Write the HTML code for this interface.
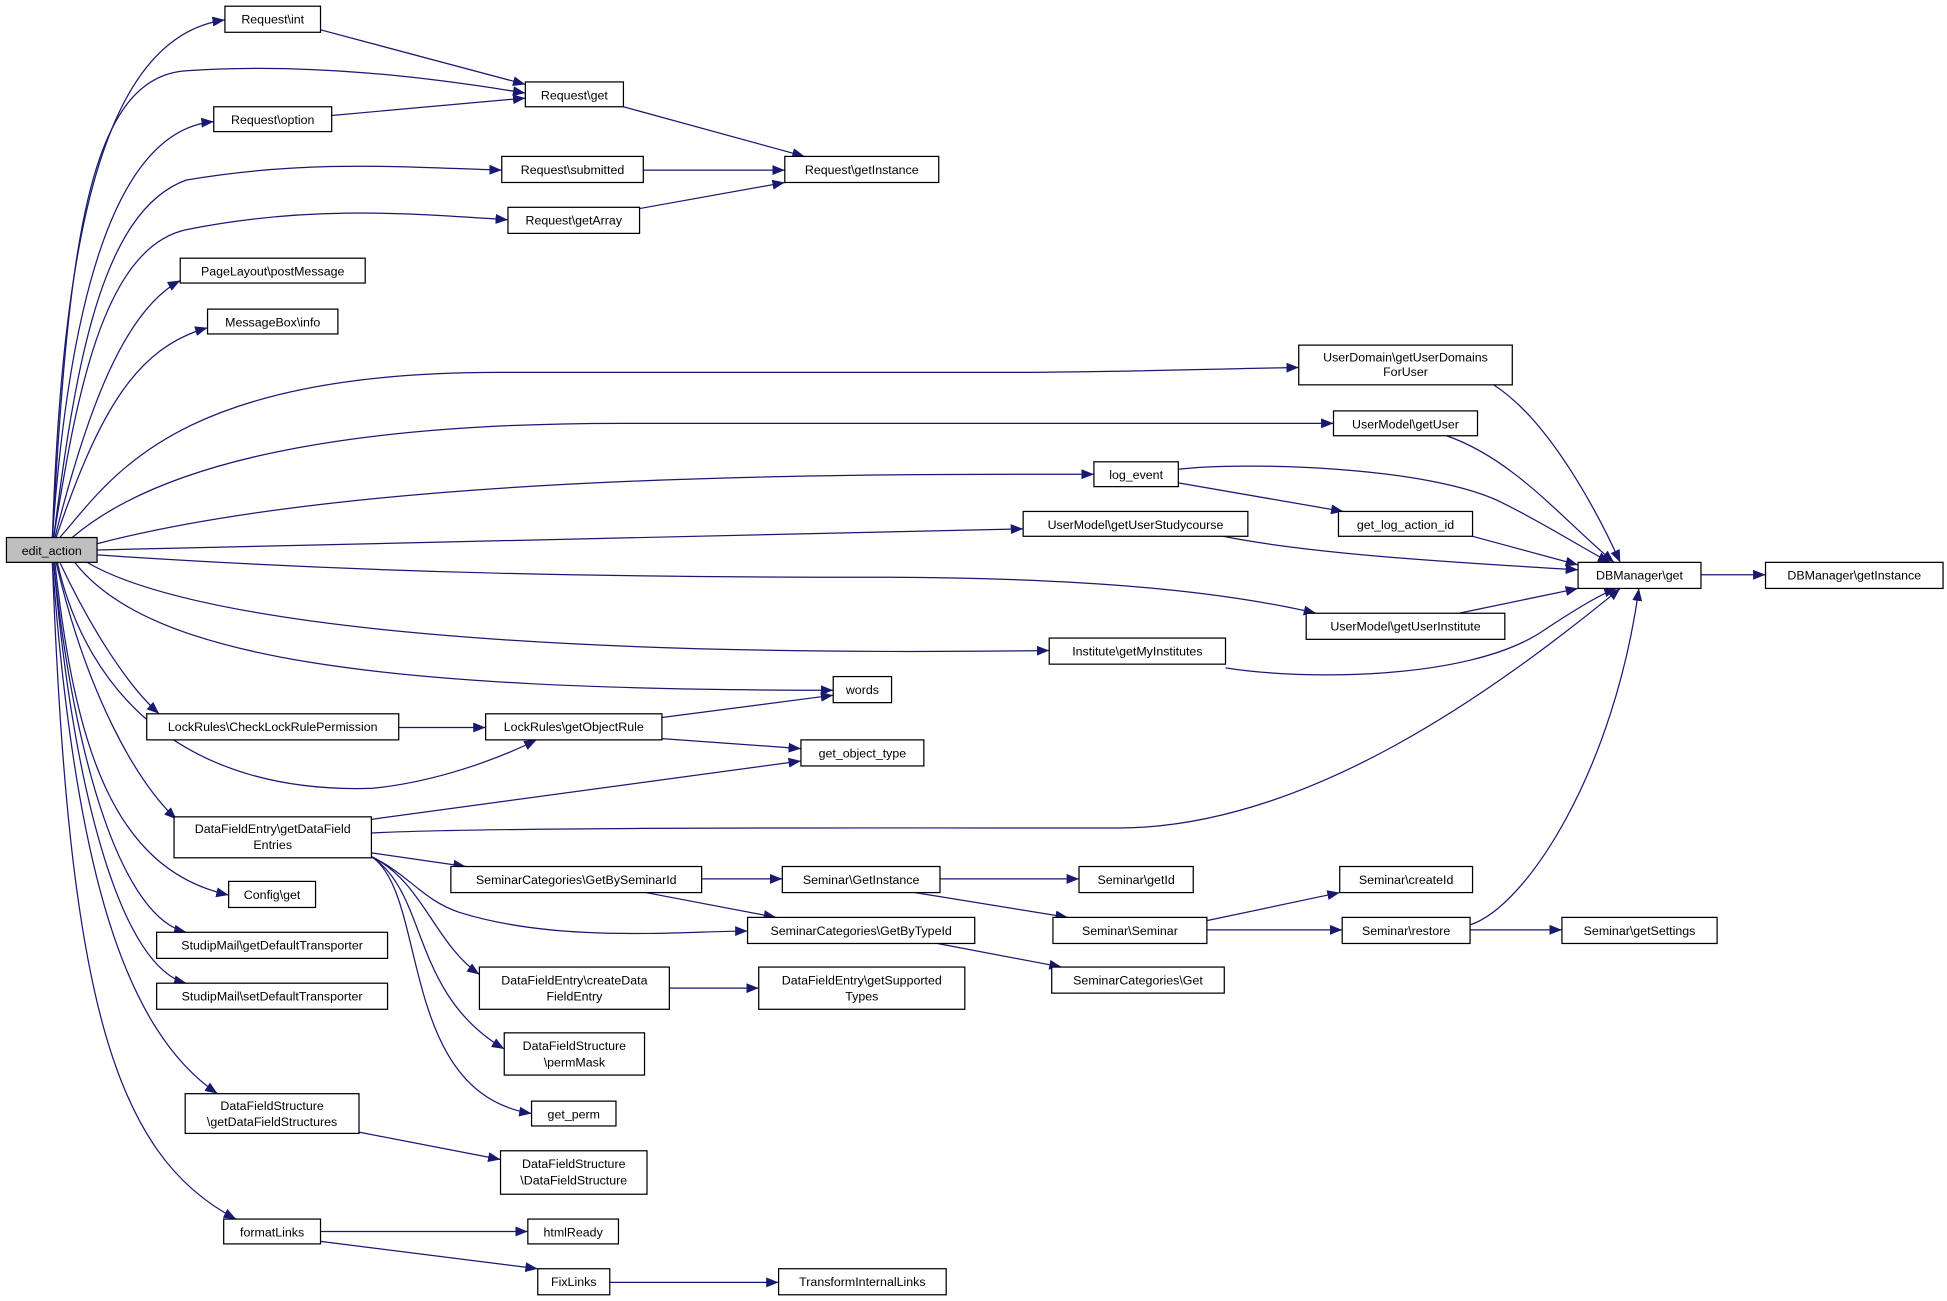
<!DOCTYPE html>
<html><head><meta charset="utf-8"><style>
html,body{margin:0;padding:0;background:#fff;}
svg{display:block;}
text{font-family:"Liberation Sans","DejaVu Sans",sans-serif;font-size:10px;fill:#000;text-anchor:middle;}
.n{fill:#fff;stroke:#000;stroke-width:1;}
.e{fill:none;stroke:#191970;stroke-width:1;marker-end:url(#a);}
</style></head><body>
<svg width="1947" height="1301" viewBox="0 0 1568 1048" xmlns="http://www.w3.org/2000/svg">
<defs><marker id="a" markerUnits="userSpaceOnUse" markerWidth="11" markerHeight="8" refX="10" refY="4" orient="auto"><path d="M0,0 L10,4 L0,8 Z" fill="#191970"/></marker></defs>
<g>
<path class="e" d="M42,433 C50,200 80,30 181,16"/>
<path class="e" d="M42,433 C55,200 70,62 150,57 C250,50 350,63 423,75"/>
<path class="e" d="M42,433 C55,250 90,105 172,98"/>
<path class="e" d="M43,433 C60,300 80,170 150,145 C250,128 330,135 404,137"/>
<path class="e" d="M43,433 C60,330 80,200 150,185 C250,165 330,172 409,177"/>
<path class="e" d="M44,433 C70,330 100,250 145,226"/>
<path class="e" d="M45,433 C80,330 110,280 167,264"/>
<path class="e" d="M48,433 C90,385 140,300 400,300 L800,300 C900,300 980,297 1046,296"/>
<path class="e" d="M58,433 C120,380 250,341 500,341 L1074,341"/>
<path class="e" d="M78,438 C300,380 700,382 881,382"/>
<path class="e" d="M78,443 L824,426"/>
<path class="e" d="M78,447 C300,462 500,465 700,465 C900,465 1000,480 1060,494"/>
<path class="e" d="M70,453 C150,500 400,530 845,524"/>
<path class="e" d="M60,453 C120,530 300,556 671,556"/>
<path class="e" d="M48,453 C70,500 100,550 128,575"/>
<path class="e" d="M46,453 C70,560 150,640 300,635 C350,630 400,612 432,596"/>
<path class="e" d="M45,453 C70,560 110,630 142,660"/>
<path class="e" d="M44,453 C60,600 90,700 184,721"/>
<path class="e" d="M43,453 C60,620 100,740 150,751"/>
<path class="e" d="M43,453 C60,650 100,780 150,792"/>
<path class="e" d="M42,453 C60,700 100,830 175,881"/>
<path class="e" d="M42,453 C55,800 90,930 190,982"/>
<path class="e" d="M258,24 L423,68"/>
<path class="e" d="M267,93 L423,79"/>
<path class="e" d="M502,86 L648,126"/>
<path class="e" d="M518,137 L632,137"/>
<path class="e" d="M515,168 L632,147"/>
<path class="e" d="M1203,310 C1250,340 1290,420 1305,453"/>
<path class="e" d="M1165,351 C1220,370 1260,420 1300,453"/>
<path class="e" d="M949,378 C1000,372 1150,375 1210,405 C1250,425 1280,445 1297,453"/>
<path class="e" d="M949,389 L1082,412"/>
<path class="e" d="M1186,432 L1271,455"/>
<path class="e" d="M985,432 C1050,445 1150,452 1271,459"/>
<path class="e" d="M1175,494 L1271,474"/>
<path class="e" d="M987,538 C1050,548 1180,548 1240,510 C1270,490 1290,478 1302,474"/>
<path class="e" d="M299,671 C400,666 700,667 900,667 C1050,667 1200,560 1305,474"/>
<path class="e" d="M1184,745 C1230,730 1300,620 1320,474"/>
<path class="e" d="M1370,463 L1422,463"/>
<path class="e" d="M299,660 L645,613"/>
<path class="e" d="M533,578 L671,560"/>
<path class="e" d="M533,595 L645,603"/>
<path class="e" d="M321,586 L391,586"/>
<path class="e" d="M299,687 L375,698"/>
<path class="e" d="M565,708 L630,708"/>
<path class="e" d="M520,719 L625,739"/>
<path class="e" d="M299,690 C330,705 340,725 370,735 C450,760 550,750 602,750"/>
<path class="e" d="M299,690 C340,710 350,760 386,785"/>
<path class="e" d="M299,690 C345,720 330,800 406,845"/>
<path class="e" d="M299,690 C345,720 320,880 428,897"/>
<path class="e" d="M757,708 L869,708"/>
<path class="e" d="M737,719 L860,739"/>
<path class="e" d="M970,742 L1079,719"/>
<path class="e" d="M972,749 L1081,749"/>
<path class="e" d="M1184,749 L1258,749"/>
<path class="e" d="M755,760 L855,779"/>
<path class="e" d="M539,796 L611,796"/>
<path class="e" d="M289,912 L403,934"/>
<path class="e" d="M258,992 L425,992"/>
<path class="e" d="M258,1000 L433,1022"/>
<path class="e" d="M491,1033 L627,1033"/>
</g>
<g>
<rect x="5" y="433" width="73" height="20" fill="#bfbfbf" stroke="#000"/><text x="41.5" y="447">edit_action</text>
<rect class="n" x="181" y="5" width="77" height="21"/><text x="219.5" y="19">Request\int</text>
<rect class="n" x="423" y="66" width="79" height="20"/><text x="462.5" y="80">Request\get</text>
<rect class="n" x="172" y="86" width="95" height="20"/><text x="219.5" y="100">Request\option</text>
<rect class="n" x="404" y="126" width="114" height="21"/><text x="461" y="140">Request\submitted</text>
<rect class="n" x="632" y="126" width="124" height="21"/><text x="694" y="140">Request\getInstance</text>
<rect class="n" x="409" y="167" width="106" height="21"/><text x="462" y="181">Request\getArray</text>
<rect class="n" x="145" y="208" width="149" height="20"/><text x="219.5" y="222">PageLayout\postMessage</text>
<rect class="n" x="167" y="249" width="105" height="20"/><text x="219.5" y="263">MessageBox\info</text>
<rect class="n" x="1046" y="278" width="172" height="32"/><text x="1132" y="291">UserDomain\getUserDomains</text><text x="1132" y="303">ForUser</text>
<rect class="n" x="1074" y="331" width="116" height="20"/><text x="1132" y="345">UserModel\getUser</text>
<rect class="n" x="881" y="372" width="68" height="20"/><text x="915" y="386">log_event</text>
<rect class="n" x="1078" y="412" width="108" height="20"/><text x="1132" y="426">get_log_action_id</text>
<rect class="n" x="824" y="412" width="181" height="20"/><text x="914.5" y="426">UserModel\getUserStudycourse</text>
<rect class="n" x="1271" y="453" width="99" height="21"/><text x="1320.5" y="467">DBManager\get</text>
<rect class="n" x="1422" y="453" width="143" height="21"/><text x="1493.5" y="467">DBManager\getInstance</text>
<rect class="n" x="1052" y="494" width="160" height="21"/><text x="1132" y="508">UserModel\getUserInstitute</text>
<rect class="n" x="845" y="514" width="142" height="21"/><text x="916" y="528">Institute\getMyInstitutes</text>
<rect class="n" x="671" y="545" width="47" height="21"/><text x="694.5" y="559">words</text>
<rect class="n" x="118" y="575" width="203" height="21"/><text x="219.5" y="589">LockRules\CheckLockRulePermission</text>
<rect class="n" x="391" y="575" width="142" height="21"/><text x="462" y="589">LockRules\getObjectRule</text>
<rect class="n" x="645" y="596" width="99" height="21"/><text x="694.5" y="610">get_object_type</text>
<rect class="n" x="140" y="658" width="159" height="33"/><text x="219.5" y="671">DataFieldEntry\getDataField</text><text x="219.5" y="684">Entries</text>
<rect class="n" x="363" y="698" width="202" height="21"/><text x="464" y="712">SeminarCategories\GetBySeminarId</text>
<rect class="n" x="630" y="698" width="127" height="21"/><text x="693.5" y="712">Seminar\GetInstance</text>
<rect class="n" x="869" y="698" width="92" height="21"/><text x="915" y="712">Seminar\getId</text>
<rect class="n" x="1079" y="698" width="107" height="21"/><text x="1132.5" y="712">Seminar\createId</text>
<rect class="n" x="848" y="739" width="124" height="21"/><text x="910" y="753">Seminar\Seminar</text>
<rect class="n" x="1081" y="739" width="103" height="21"/><text x="1132.5" y="753">Seminar\restore</text>
<rect class="n" x="1258" y="739" width="125" height="21"/><text x="1320.5" y="753">Seminar\getSettings</text>
<rect class="n" x="602" y="739" width="183" height="21"/><text x="693.5" y="753">SeminarCategories\GetByTypeId</text>
<rect class="n" x="847" y="779" width="139" height="21"/><text x="916.5" y="793">SeminarCategories\Get</text>
<rect class="n" x="386" y="779" width="153" height="34"/><text x="462.5" y="793">DataFieldEntry\createData</text><text x="462.5" y="806">FieldEntry</text>
<rect class="n" x="611" y="779" width="166" height="34"/><text x="694" y="793">DataFieldEntry\getSupported</text><text x="694" y="806">Types</text>
<rect class="n" x="184" y="710" width="70" height="21"/><text x="219" y="724">Config\get</text>
<rect class="n" x="126" y="751" width="186" height="21"/><text x="219" y="765">StudipMail\getDefaultTransporter</text>
<rect class="n" x="126" y="792" width="186" height="21"/><text x="219" y="806">StudipMail\setDefaultTransporter</text>
<rect class="n" x="406" y="832" width="113" height="34"/><text x="462.5" y="846">DataFieldStructure</text><text x="462.5" y="859">\permMask</text>
<rect class="n" x="428" y="887" width="68" height="20"/><text x="462" y="901">get_perm</text>
<rect class="n" x="149" y="881" width="140" height="32"/><text x="219" y="894">DataFieldStructure</text><text x="219" y="907">\getDataFieldStructures</text>
<rect class="n" x="403" y="927" width="118" height="35"/><text x="462" y="941">DataFieldStructure</text><text x="462" y="954">\DataFieldStructure</text>
<rect class="n" x="180" y="982" width="78" height="20"/><text x="219" y="996">formatLinks</text>
<rect class="n" x="425" y="982" width="73" height="20"/><text x="461.5" y="996">htmlReady</text>
<rect class="n" x="433" y="1022" width="58" height="21"/><text x="462" y="1036">FixLinks</text>
<rect class="n" x="627" y="1022" width="135" height="21"/><text x="694.5" y="1036">TransformInternalLinks</text>
</g>
</svg>
</body></html>
